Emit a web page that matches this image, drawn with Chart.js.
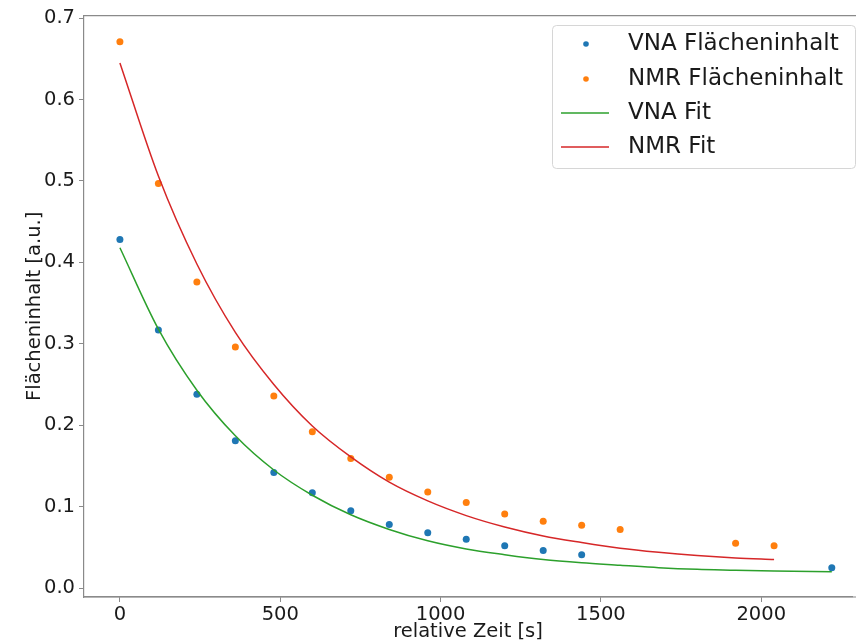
<!DOCTYPE html>
<html>
<head>
<meta charset="utf-8">
<script src="https://cdn.jsdelivr.net/npm/chart.js@4/dist/chart.umd.min.js"></script>
<style>
    html, body { margin: 0; padding: 0; background: #fff; }
    #wrap { width: 856px; height: 644px; }
</style>
</head>
<body>
<div id="wrap"><canvas id="fitChart" width="856" height="644"></canvas></div>
<script>
// ── Data ──
const timeVna = [0, 120, 240, 360, 480, 600, 720, 840, 960, 1080, 1200, 1320, 1440, 2220];
const areaVna = [0.428, 0.317, 0.238, 0.181, 0.142, 0.117, 0.095, 0.078, 0.068, 0.060, 0.052, 0.046, 0.041, 0.025];

const timeNmr = [0, 120, 240, 360, 480, 600, 720, 840, 960, 1080, 1200, 1320, 1440, 1560, 1920, 2040];
const areaNmr = [0.671, 0.497, 0.376, 0.296, 0.236, 0.192, 0.159, 0.136, 0.118, 0.105, 0.091, 0.082, 0.077, 0.072, 0.055, 0.052];

// fit curves
const fitTimeVna = [0, 120, 240, 360, 480, 600, 720, 840, 960, 1080, 1200, 1320, 1440, 1560, 1680, 1800, 1920, 2040, 2220];
const fitVna = [0.418, 0.318, 0.243, 0.187, 0.145, 0.114, 0.090, 0.072, 0.058, 0.048, 0.041, 0.035, 0.031, 0.028, 0.025, 0.023, 0.022, 0.021, 0.020];

const fitTimeNmr = [0, 120, 240, 360, 480, 600, 720, 840, 960, 1080, 1200, 1320, 1440, 1560, 1680, 1800, 1920, 2040];
const fitNmr = [0.645, 0.506, 0.398, 0.314, 0.250, 0.199, 0.161, 0.130, 0.107, 0.089, 0.075, 0.064, 0.056, 0.049, 0.044, 0.040, 0.037, 0.035];

const xTicks = [0, 500, 1000, 1500, 2000];
const yTicks = [0.0, 0.1, 0.2, 0.3, 0.4, 0.5, 0.6, 0.7];

const labels = ["VNA Flächeninhalt", "NMR Flächeninhalt", "VNA Fit", "NMR Fit"];

function pairs(xs, ys) {
    return xs.map(function (x, i) { return { x: x, y: ys[i] }; });
}

const FONT = "'DejaVu Sans', sans-serif";
const SPINE = "#8a8a8a";

// ── top spine + bottom spine running to the cropped right edge ──
const spines = {
    id: "spines",
    afterDraw(chart) {
        const a = chart.chartArea, ctx = chart.ctx;
        ctx.save();
        ctx.strokeStyle = SPINE;
        ctx.lineWidth = 1.2;
        ctx.beginPath();
        ctx.moveTo(a.left, a.top);
        ctx.lineTo(856, a.top);
        ctx.moveTo(a.left, a.bottom);
        ctx.lineTo(856, a.bottom);
        ctx.stroke();
        ctx.restore();
    }
};

// ── legend box in upper right ──
const boxLegend = {
    id: "boxLegend",
    afterDraw(chart) {
        const ctx = chart.ctx;
        const bx = 552, by = 25, bw = 303, bh = 143, r = 4;
        ctx.save();
        ctx.beginPath();
        ctx.roundRect(bx + 0.5, by + 0.5, bw, bh, r);
        ctx.fillStyle = "rgba(255,255,255,0.8)";
        ctx.fill();
        ctx.strokeStyle = "#d6d6d6";
        ctx.lineWidth = 1;
        ctx.stroke();

        const rowY = [44, 79, 113, 147];
        chart.data.datasets.forEach(function (ds, i) {
            const y = rowY[i];
            if (ds.showLine) {
                ctx.strokeStyle = ds.borderColor;
                ctx.lineWidth = 1.5;
                ctx.beginPath();
                ctx.moveTo(561, y);
                ctx.lineTo(609, y);
                ctx.stroke();
            } else {
                ctx.fillStyle = ds.backgroundColor;
                ctx.beginPath();
                ctx.arc(586, y, 2.8, 0, Math.PI * 2);
                ctx.fill();
            }
            ctx.fillStyle = "#1a1a1a";
            ctx.font = "23px " + FONT;
            ctx.textBaseline = "middle";
            ctx.textAlign = "left";
            ctx.fillText(ds.label, 628, y);
        });
        ctx.restore();
    }
};

new Chart(document.getElementById("fitChart"), {
    type: "scatter",
    data: {
        datasets: [
            {
                label: labels[0],
                data: pairs(timeVna, areaVna),
                backgroundColor: "#1f77b4",
                borderColor: "#1f77b4",
                pointRadius: 3.5,
                pointBorderWidth: 0,
                showLine: false,
                order: 2
            },
            {
                label: labels[1],
                data: pairs(timeNmr, areaNmr),
                backgroundColor: "#ff7f0e",
                borderColor: "#ff7f0e",
                pointRadius: 3.5,
                pointBorderWidth: 0,
                showLine: false,
                order: 2
            },
            {
                label: labels[2],
                data: pairs(fitTimeVna, fitVna),
                borderColor: "#2ca02c",
                backgroundColor: "#2ca02c",
                borderWidth: 1.5,
                pointRadius: 0,
                showLine: true,
                cubicInterpolationMode: "monotone",
                order: 1
            },
            {
                label: labels[3],
                data: pairs(fitTimeNmr, fitNmr),
                borderColor: "#d62728",
                backgroundColor: "#d62728",
                borderWidth: 1.5,
                pointRadius: 0,
                showLine: true,
                cubicInterpolationMode: "monotone",
                order: 1
            }
        ]
    },
    options: {
        responsive: false,
        animation: false,
        layout: { padding: { top: 13, right: 0, left: 0, bottom: 0 } },
        plugins: {
            legend: { display: false },
            tooltip: { enabled: false }
        },
        scales: {
            x: {
                type: "linear",
                min: -112,
                max: 2283,
                afterFit: function (s) { s.height = 47; },
                afterBuildTicks: function (s) { s.ticks = xTicks.map(function (v) { return { value: v }; }); },
                border: { color: SPINE, width: 1.2 },
                grid: { drawOnChartArea: false, drawTicks: true, tickLength: 5, color: SPINE },
                ticks: {
                    padding: 1,
                    color: "#1a1a1a",
                    font: { family: FONT, size: 19.5 },
                    maxRotation: 0,
                    callback: function (v) { return String(v); }
                },
                title: {
                    display: true,
                    text: "relative Zeit [s]",
                    color: "#1a1a1a",
                    font: { family: FONT, size: 19.5 },
                    padding: { top: 0, bottom: 0 }
                }
            },
            y: {
                type: "linear",
                min: -0.011,
                max: 0.703,
                afterFit: function (s) { s.width = 84; },
                afterBuildTicks: function (s) { s.ticks = yTicks.map(function (v) { return { value: v }; }); },
                border: { color: SPINE, width: 1.2 },
                grid: { drawOnChartArea: false, drawTicks: true, tickLength: 5, color: SPINE },
                ticks: {
                    padding: 4,
                    color: "#1a1a1a",
                    font: { family: FONT, size: 19.5 },
                    callback: function (v) { return v.toFixed(1); }
                },
                title: {
                    display: true,
                    text: "Flächeninhalt [a.u.]",
                    color: "#1a1a1a",
                    font: { family: FONT, size: 19.5 },
                    padding: { top: 23, bottom: 0 }
                }
            }
        }
    },
    plugins: [spines, boxLegend]
});
</script>
</body>
</html>
